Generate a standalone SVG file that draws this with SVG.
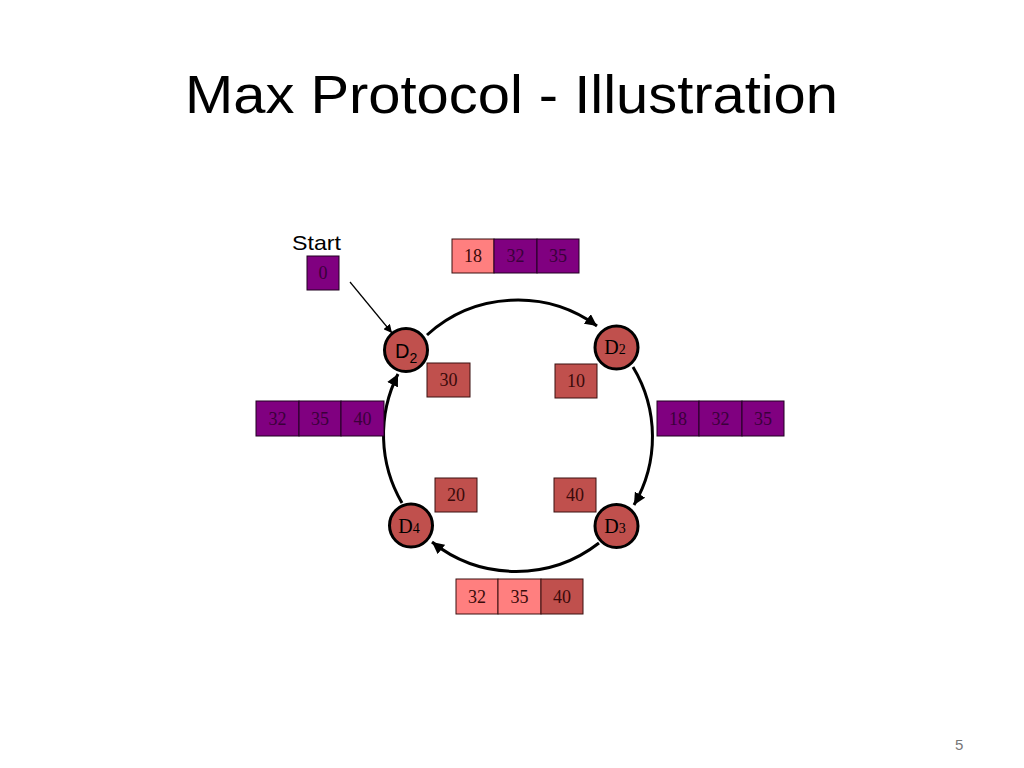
<svg xmlns="http://www.w3.org/2000/svg" width="1024" height="768" viewBox="0 0 1024 768">
<defs>
<style>
.title{font-family:"Liberation Sans","Open Sans",sans-serif;font-size:54px;fill:#000}
.sans{font-family:"Liberation Sans","Open Sans",sans-serif;fill:#000}
.num{font-family:"Liberation Serif","Times New Roman",serif;font-size:18px;text-anchor:middle}
.red{fill:#C0504D;stroke:#3a1010;stroke-width:1}
.pink{fill:#FF7F7F;stroke:#3a1010;stroke-width:1}
.pur{fill:#800080;stroke:#200020;stroke-width:1}
.tr{fill:#3a0a0a}
.tp{fill:#3a003a}
.node{fill:#C0504D;stroke:#000;stroke-width:3}
.arc{fill:none;stroke:#000;stroke-width:3}
</style>
<marker id="ah" viewBox="0 0 10 10" refX="10" refY="5" markerWidth="4" markerHeight="4" orient="auto" markerUnits="strokeWidth">
<path d="M0,0 L10,5 L0,10 z" fill="#000"/>
</marker>
<marker id="ah2" viewBox="0 0 10 10" refX="10" refY="5" markerWidth="7" markerHeight="7" orient="auto" markerUnits="strokeWidth">
<path d="M0,0 L10,5 L0,10 z" fill="#000"/>
</marker>
</defs>
<rect width="1024" height="768" fill="#fff"/>
<text class="title" x="185" y="113" textLength="653" lengthAdjust="spacingAndGlyphs">Max Protocol - Illustration</text>
<text x="955" y="750" font-family="Liberation Sans, sans-serif" font-size="15" fill="#777">5</text>

<g id="connectors">
<path class="arc" d="M427,335 A135,135 0 0 1 597,326" marker-end="url(#ah)"/>
<path class="arc" d="M633,367 A135,135 0 0 1 634,505" marker-end="url(#ah)"/>
<path class="arc" d="M599,543 A135,135 0 0 1 432,542" marker-end="url(#ah)"/>
<path class="arc" d="M402,503 A135,135 0 0 1 398,374" marker-end="url(#ah)"/>
<line x1="350" y1="282" x2="392" y2="333" stroke="#000" stroke-width="1.2" marker-end="url(#ah2)"/>
</g>

<g id="start">
<text class="sans" x="292" y="250" font-size="21" textLength="49" lengthAdjust="spacingAndGlyphs">Start</text>
<rect class="pur" x="307" y="256" width="32" height="34"/>
<text class="num tp" x="323" y="279" font-size="16">0</text>
</g>

<g id="node-d2-top-left">
<circle class="node" cx="406" cy="350" r="21.5"/>
<text class="sans" x="395" y="358" font-size="20">D<tspan font-size="14" dy="5">2</tspan></text>
</g>
<g id="node-d2-top-right">
<circle class="node" cx="616.5" cy="347.5" r="21.5"/>
<text x="615" y="354" font-family="Liberation Serif, serif" font-size="20" text-anchor="middle">D<tspan font-size="14">2</tspan></text>
</g>
<g id="node-d3">
<circle class="node" cx="616.5" cy="526" r="21.5"/>
<text x="615" y="533" font-family="Liberation Serif, serif" font-size="20" text-anchor="middle">D<tspan font-size="14">3</tspan></text>
</g>
<g id="node-d4">
<circle class="node" cx="411" cy="525.5" r="21.5"/>
<text x="409" y="533" font-family="Liberation Serif, serif" font-size="20" text-anchor="middle">D<tspan font-size="14">4</tspan></text>
</g>

<g id="val-30"><rect class="red" x="427" y="363" width="43" height="34"/><text class="num tr" x="448.5" y="386">30</text></g>
<g id="val-10"><rect class="red" x="555" y="364" width="42" height="34"/><text class="num tr" x="576" y="387">10</text></g>
<g id="val-20"><rect class="red" x="435" y="478" width="42" height="34"/><text class="num tr" x="456" y="501">20</text></g>
<g id="val-40"><rect class="red" x="554" y="478" width="42" height="34"/><text class="num tr" x="575" y="501">40</text></g>

<g id="msg-top">
<rect class="pink" x="452" y="239" width="42" height="34"/><text class="num tr" x="473" y="262">18</text>
<rect class="pur" x="494" y="239" width="43" height="34"/><text class="num tp" x="515.5" y="262">32</text>
<rect class="pur" x="537" y="239" width="42" height="34"/><text class="num tp" x="558" y="262">35</text>
</g>
<g id="msg-right">
<rect class="pur" x="657" y="401" width="42" height="35"/><text class="num tp" x="678" y="425">18</text>
<rect class="pur" x="699" y="401" width="43" height="35"/><text class="num tp" x="720.5" y="425">32</text>
<rect class="pur" x="742" y="401" width="42" height="35"/><text class="num tp" x="763" y="425">35</text>
</g>
<g id="msg-left">
<rect class="pur" x="256" y="401" width="43" height="35"/><text class="num tp" x="277.5" y="425">32</text>
<rect class="pur" x="299" y="401" width="42" height="35"/><text class="num tp" x="320" y="425">35</text>
<rect class="pur" x="341" y="401" width="43" height="35"/><text class="num tp" x="362.5" y="425">40</text>
</g>
<g id="msg-bottom">
<rect class="pink" x="456" y="579" width="42" height="35"/><text class="num tr" x="477" y="603">32</text>
<rect class="pink" x="498" y="579" width="43" height="35"/><text class="num tr" x="519.5" y="603">35</text>
<rect class="red" x="541" y="579" width="42" height="35"/><text class="num tr" x="562" y="603">40</text>
</g>
</svg>
